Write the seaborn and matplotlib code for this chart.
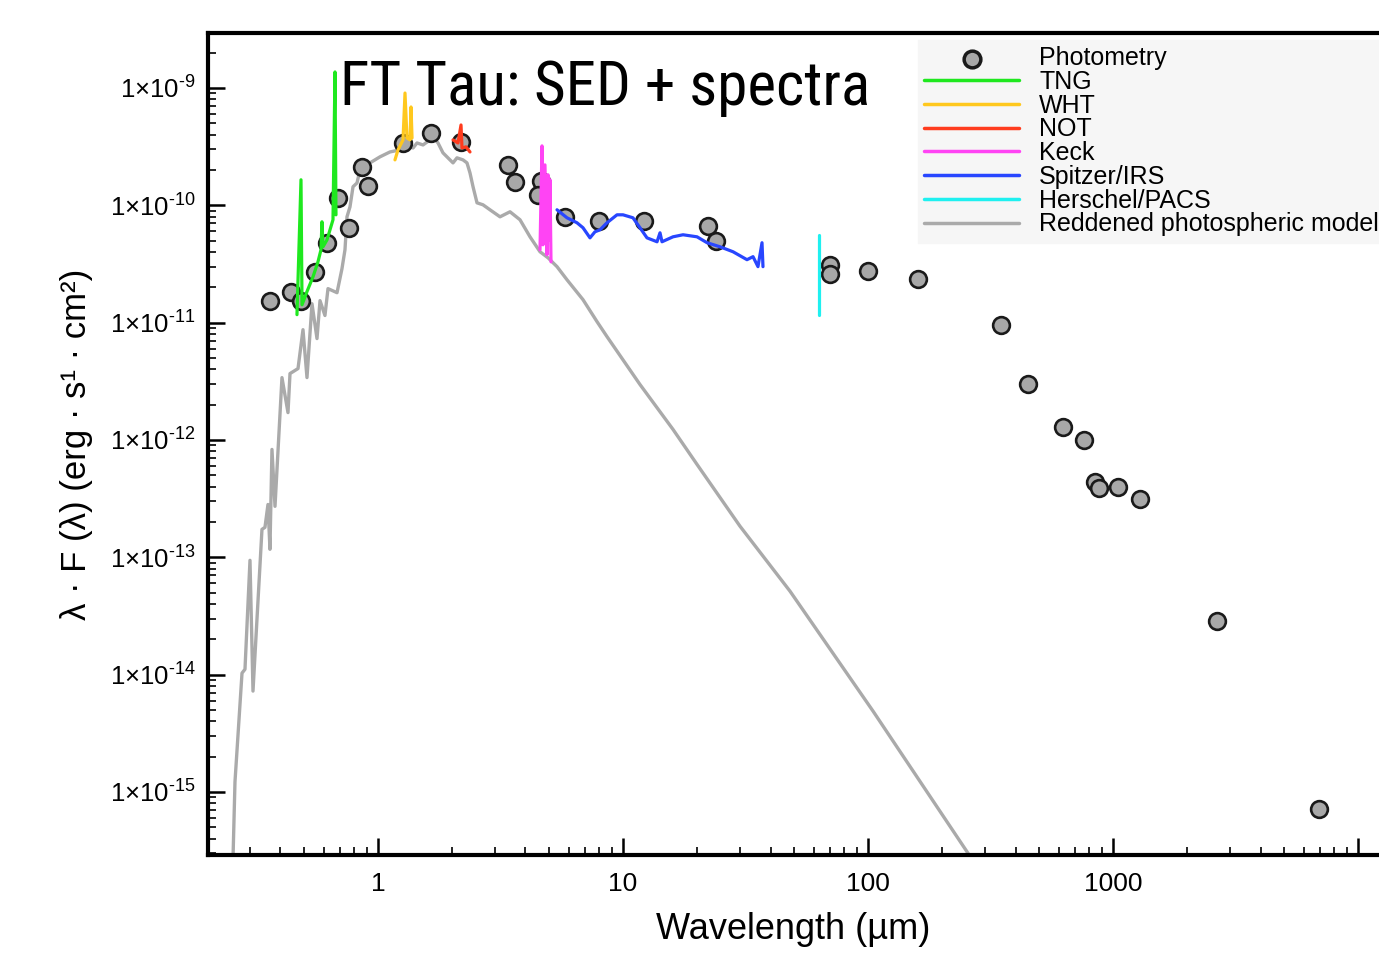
import numpy as np
import matplotlib
matplotlib.use('Agg')
import matplotlib.pyplot as plt
import matplotlib.ticker as mticker
from matplotlib import font_manager
import seaborn as sns

# photometry: wavelength (micron), lambda*F(lambda) (erg/s/cm2)
phot_wl = [0.362, 0.442, 0.485, 0.553, 0.619, 0.687, 0.762, 0.861, 0.91, 1.26,
           1.65, 2.18, 3.39, 3.62, 4.63, 4.5, 5.8, 7.98, 12.2, 22.2,
           24.0, 70.0, 70.0, 100.0, 160.0, 349.0, 450.0, 625.0, 762.0, 845.0,
           877.0, 1048.0, 1288.0, 2655.0, 6934.0]
phot_flux = [1.54e-11, 1.84e-11, 1.54e-11, 2.72e-11, 4.8e-11, 1.16e-10, 6.44e-11, 2.13e-10, 1.47e-10, 3.4e-10,
             4.14e-10, 3.47e-10, 2.21e-10, 1.58e-10, 1.62e-10, 1.23e-10, 7.98e-11, 7.38e-11, 7.38e-11, 6.7e-11,
             4.99e-11, 3.12e-11, 2.61e-11, 2.77e-11, 2.37e-11, 9.6e-12, 2.97e-12, 1.28e-12, 1.0e-12, 4.35e-13,
             3.87e-13, 3.94e-13, 3.12e-13, 2.85e-14, 7.16e-16]

# spectra
tng_wl = [0.467, 0.485, 0.4897, 0.5131, 0.543, 0.5689, 0.5852, 0.5907, 0.5963, 0.6193, 0.6369, 0.6551, 0.6676, 0.6738]
tng_flux = [1.17e-11, 1.65e-10, 1.42e-11, 1.84e-11, 2.46e-11, 3.3e-11, 4.18e-11, 7.24e-11, 4.43e-11, 5.08e-11, 6.18e-11, 7.53e-11, 1.37e-9, 8.3e-11]

wht_wl = [1.173, 1.207, 1.265, 1.289, 1.313, 1.351, 1.364, 1.377]
wht_flux = [2.44e-10, 2.97e-10, 3.61e-10, 9.06e-10, 3.75e-10, 3.61e-10, 6.89e-10, 3.75e-10]

not_wl = [2.024, 2.121, 2.182, 2.202, 2.287, 2.374]
not_flux = [3.61e-10, 3.4e-10, 4.84e-10, 3.08e-10, 3.15e-10, 2.85e-10]

keck_wl = [4.584, 4.671, 4.715, 4.803, 4.894, 4.943, 4.989, 5.035, 5.083]
keck_flux = [4.18e-11, 3.21e-10, 4.61e-11, 2.21e-10, 3.79e-11, 1.82e-10, 5.08e-11, 1.65e-10, 3.3e-11]

irs_wl = [5.379, 5.907, 6.49, 6.866, 7.333, 7.686, 8.056, 8.604, 9.452, 10.0,
          10.98, 11.73, 12.53, 13.77, 14.16, 14.43, 16.0, 17.58, 20.05, 22.03,
          24.89, 28.12, 32.07, 33.94, 35.56, 36.93, 37.27]
irs_flux = [9.16e-11, 7.83e-11, 7.1e-11, 6.44e-11, 5.28e-11, 5.95e-11, 6.18e-11, 7.1e-11, 8.3e-11, 8.3e-11,
            7.83e-11, 6.44e-11, 5.28e-11, 4.89e-11, 5.83e-11, 4.89e-11, 5.39e-11, 5.61e-11, 5.39e-11, 4.8e-11,
            4.43e-11, 4.02e-11, 3.44e-11, 3.65e-11, 3.0e-11, 4.8e-11, 3.0e-11]

pacs_wl = [63.1, 63.1]
pacs_flux = [5.61e-11, 1.17e-11]

# reddened photosphere model
model_wl = [0.256, 0.2608, 0.2786, 0.2865, 0.3003, 0.3089, 0.3361, 0.3457, 0.3556, 0.3623,
            0.3692, 0.3799, 0.4056, 0.4292, 0.4374, 0.4716, 0.4942, 0.5131, 0.5378, 0.5637,
            0.5799, 0.6075, 0.6251, 0.6804, 0.7128, 0.7333, 0.7472, 0.7686, 0.7908, 0.8209,
            0.8444, 0.9275, 1.019, 1.119, 1.23, 1.313, 1.39, 1.443, 1.527, 1.63,
            1.677, 1.758, 1.842, 1.967, 2.024, 2.101, 2.223, 2.308, 2.374, 2.443,
            2.536, 2.683, 2.865, 3.148, 3.458, 3.799, 4.173, 4.584, 4.943, 5.379,
            5.907, 6.866, 7.833, 8.604, 11.73, 16.0, 20.05, 30.03, 48.05, 104.8, 275.0]
model_flux = [2.7e-16, 1.22e-15, 1.03e-14, 1.11e-14, 9.42e-14, 7.24e-15, 1.73e-13, 1.8e-13, 2.82e-13, 1.17e-13,
              8.3e-13, 2.72e-13, 3.4e-12, 1.71e-12, 3.68e-12, 4.06e-12, 8.71e-12, 3.4e-12, 1.45e-11, 7.31e-12,
              1.54e-11, 1.15e-11, 1.95e-11, 1.8e-11, 2.88e-11, 4.18e-11, 7.98e-11, 9.7e-11, 1.44e-10, 1.55e-10,
              2.0e-10, 2.3e-10, 2.59e-10, 2.85e-10, 2.97e-10, 3.27e-10, 3.08e-10, 3.4e-10, 3.27e-10, 3.61e-10,
              3.83e-10, 3.4e-10, 2.8e-10, 2.44e-10, 2.3e-10, 2.54e-10, 2.44e-10, 2.3e-10, 1.89e-10, 1.44e-10,
              1.05e-10, 1.01e-10, 9.16e-11, 7.98e-11, 8.81e-11, 7.53e-11, 5.39e-11, 4.02e-11, 3.57e-11, 3.0e-11,
              2.32e-11, 1.57e-11, 1.02e-11, 7.6e-12, 2.97e-12, 1.23e-12, 6.19e-13, 1.84e-13, 5.14e-14, 4.89e-15, 2.4e-16]

legend_order = ['Photometry', 'TNG', 'WHT', 'NOT', 'Keck', 'Spitzer/IRS',
                'Herschel/PACS', 'Reddened photospheric model']
xtick_vals = [1, 10, 100, 1000, 10000]
xtick_labels = ['1', '10', '100', '1000', '']
ytick_vals = [1e-15, 1e-14, 1e-13, 1e-12, 1e-11, 1e-10, 1e-9]


def has_font(name):
    try:
        font_manager.findfont(font_manager.FontProperties(family=name), fallback_to_default=False)
        return True
    except ValueError:
        return False


# title is set in a narrow face if one is around
title_family, title_size = 'Liberation Sans', 37
for cand in ['Liberation Sans Narrow', 'Roboto Condensed', 'Open Sans Condensed', 'Arial Narrow']:
    if has_font(cand):
        title_family, title_size = cand, 44
        break


def ytick_fmt(v, pos):
    return '$\\mathregular{1{\\times}10^{\u2010%d}}$' % int(round(-np.log10(v)))


sns.set_theme(style='ticks')
plt.rcParams['font.family'] = ['Liberation Sans', 'DejaVu Sans']
plt.rcParams['mathtext.fontset'] = 'custom'
plt.rcParams['mathtext.rm'] = 'Liberation Sans'
for key in ['text.color', 'axes.labelcolor', 'xtick.color', 'ytick.color']:
    plt.rcParams[key] = 'black'

fig = plt.figure(figsize=(13.79, 9.55), dpi=100)
ax = fig.add_axes([0.1508, 0.1047, 0.8492, 0.8607])
ax.set_xscale('log')
ax.set_yscale('log')

sns.lineplot(x=model_wl, y=model_flux, sort=False, estimator=None, color='#aaaaaa',
             linewidth=2.4, label='Reddened photospheric model', ax=ax, zorder=2)
sns.scatterplot(x=phot_wl, y=phot_flux, s=145, color='#a8a8a8', edgecolor='#1a1a1a',
                linewidth=1.9, label='Photometry', ax=ax, zorder=3)

spectra = [
    (tng_wl, tng_flux, '#1fe81f', 'TNG'),
    (wht_wl, wht_flux, '#ffc81e', 'WHT'),
    (not_wl, not_flux, '#ff3c1e', 'NOT'),
    (keck_wl, keck_flux, '#ff44f4', 'Keck'),
    (irs_wl, irs_flux, '#2846ff', 'Spitzer/IRS'),
    (pacs_wl, pacs_flux, '#1ff0f0', 'Herschel/PACS'),
]
for wl, fl, col, lab in spectra:
    sns.lineplot(x=wl, y=fl, sort=False, estimator=None, color=col, linewidth=2.3,
                 label=lab, ax=ax, zorder=4)

ax.set_xlim(0.2023, 12180)
ax.set_ylim(2.9e-16, 2.94e-9)

ax.xaxis.set_major_locator(mticker.FixedLocator(xtick_vals))
ax.xaxis.set_major_formatter(mticker.FixedFormatter(xtick_labels))
ax.xaxis.set_minor_formatter(mticker.NullFormatter())
ax.yaxis.set_major_locator(mticker.FixedLocator(ytick_vals))
ax.yaxis.set_minor_locator(mticker.LogLocator(base=10, subs=np.arange(2, 10), numticks=20))
ax.yaxis.set_major_formatter(mticker.FuncFormatter(ytick_fmt))
ax.yaxis.set_minor_formatter(mticker.NullFormatter())

ax.tick_params(which='major', direction='in', length=12, width=1.8, color='black',
               top=False, right=False)
ax.tick_params(which='minor', direction='in', length=6, width=1.2, color='black',
               top=False, right=False)
ax.tick_params(axis='x', which='major', labelsize=19, pad=12)
ax.tick_params(axis='y', which='major', labelsize=18.5, pad=9)

for side in ['left', 'bottom', 'top']:
    ax.spines[side].set_linewidth(3)
    ax.spines[side].set_color('black')
ax.spines['right'].set_visible(False)

ax.set_xlabel('Wavelength (µm)', fontsize=26, labelpad=12)
ax.set_ylabel('λ · F (λ) (erg · s¹ · cm²)', fontsize=25, labelpad=12)

fig.text(340 / 1379, 1 - 105 / 955, 'FT Tau: SED + spectra', fontsize=title_size,
         family=[title_family, 'Liberation Sans'], va='baseline', ha='left')

handles, labels = ax.get_legend_handles_labels()
lookup = dict(zip(labels, handles))
leg = ax.legend([lookup[k] for k in legend_order], legend_order,
                loc='upper left', bbox_to_anchor=(918 / 1379, 1 - 40 / 955),
                bbox_transform=fig.transFigure, borderaxespad=0, fontsize=18,
                labelspacing=-0.01, handlelength=3.8, handletextpad=0.8,
                borderpad=0.25, frameon=True, fancybox=False, framealpha=1)
leg.get_frame().set_facecolor('#f6f6f6')
leg.get_frame().set_edgecolor('#f6f6f6')
for h in leg.legend_handles:
    if hasattr(h, 'set_linewidth'):
        h.set_linewidth(2.5)

fig.savefig('out.png', dpi=100)
